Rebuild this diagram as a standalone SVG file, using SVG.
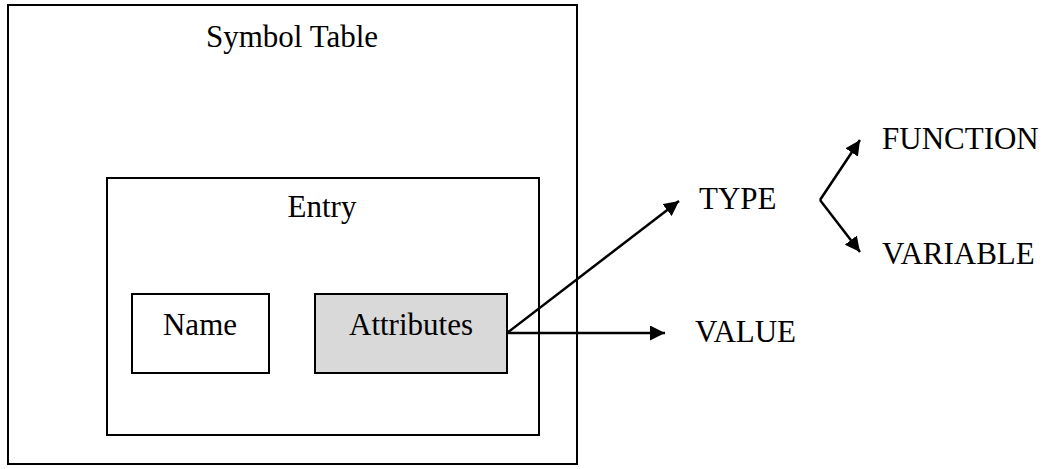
<svg xmlns="http://www.w3.org/2000/svg" width="1044" height="469" viewBox="0 0 1044 469">
<style>
text{font-family:"Liberation Serif","Times New Roman",serif;font-size:31px;fill:#000}
.box{fill:#fff;stroke:#000;stroke-width:2}
.c{fill:none;stroke:#000;stroke-width:2.5}
</style>
<defs>
<marker id="ah" viewBox="0 0 10 10" refX="10" refY="5" markerWidth="6" markerHeight="6" markerUnits="strokeWidth" orient="auto">
<path d="M0,0 L10,5 L0,10 z" fill="#000"/>
</marker>
</defs>
<rect width="1044" height="469" fill="#fff"/>
<g id="symbol-table">
<rect class="box" x="8" y="5" width="569" height="459"/>
<text x="292" y="47" text-anchor="middle">Symbol Table</text>
</g>
<g id="entry">
<rect class="box" x="107" y="178" width="432" height="257"/>
<text x="322" y="217" text-anchor="middle">Entry</text>
</g>
<g id="name">
<rect class="box" x="132" y="294" width="137" height="79"/>
<text x="200" y="335" text-anchor="middle">Name</text>
</g>
<g id="attributes">
<rect class="box" x="315" y="294" width="192" height="79" style="fill:#d9d9d9"/>
<text x="411" y="335" text-anchor="middle">Attributes</text>
</g>
<g id="type"><text x="699" y="209">TYPE</text></g>
<g id="value"><text x="695" y="342">VALUE</text></g>
<g id="function"><text x="882" y="149">FUNCTION</text></g>
<g id="variable"><text x="882" y="264">VARIABLE</text></g>
<g id="connectors">
<line class="c" x1="507" y1="333" x2="679" y2="201" marker-end="url(#ah)"/>
<line class="c" x1="507" y1="333" x2="665" y2="333" marker-end="url(#ah)"/>
<line class="c" x1="820" y1="200" x2="860" y2="140" marker-end="url(#ah)"/>
<line class="c" x1="820" y1="200" x2="860" y2="252" marker-end="url(#ah)"/>
</g>
</svg>
